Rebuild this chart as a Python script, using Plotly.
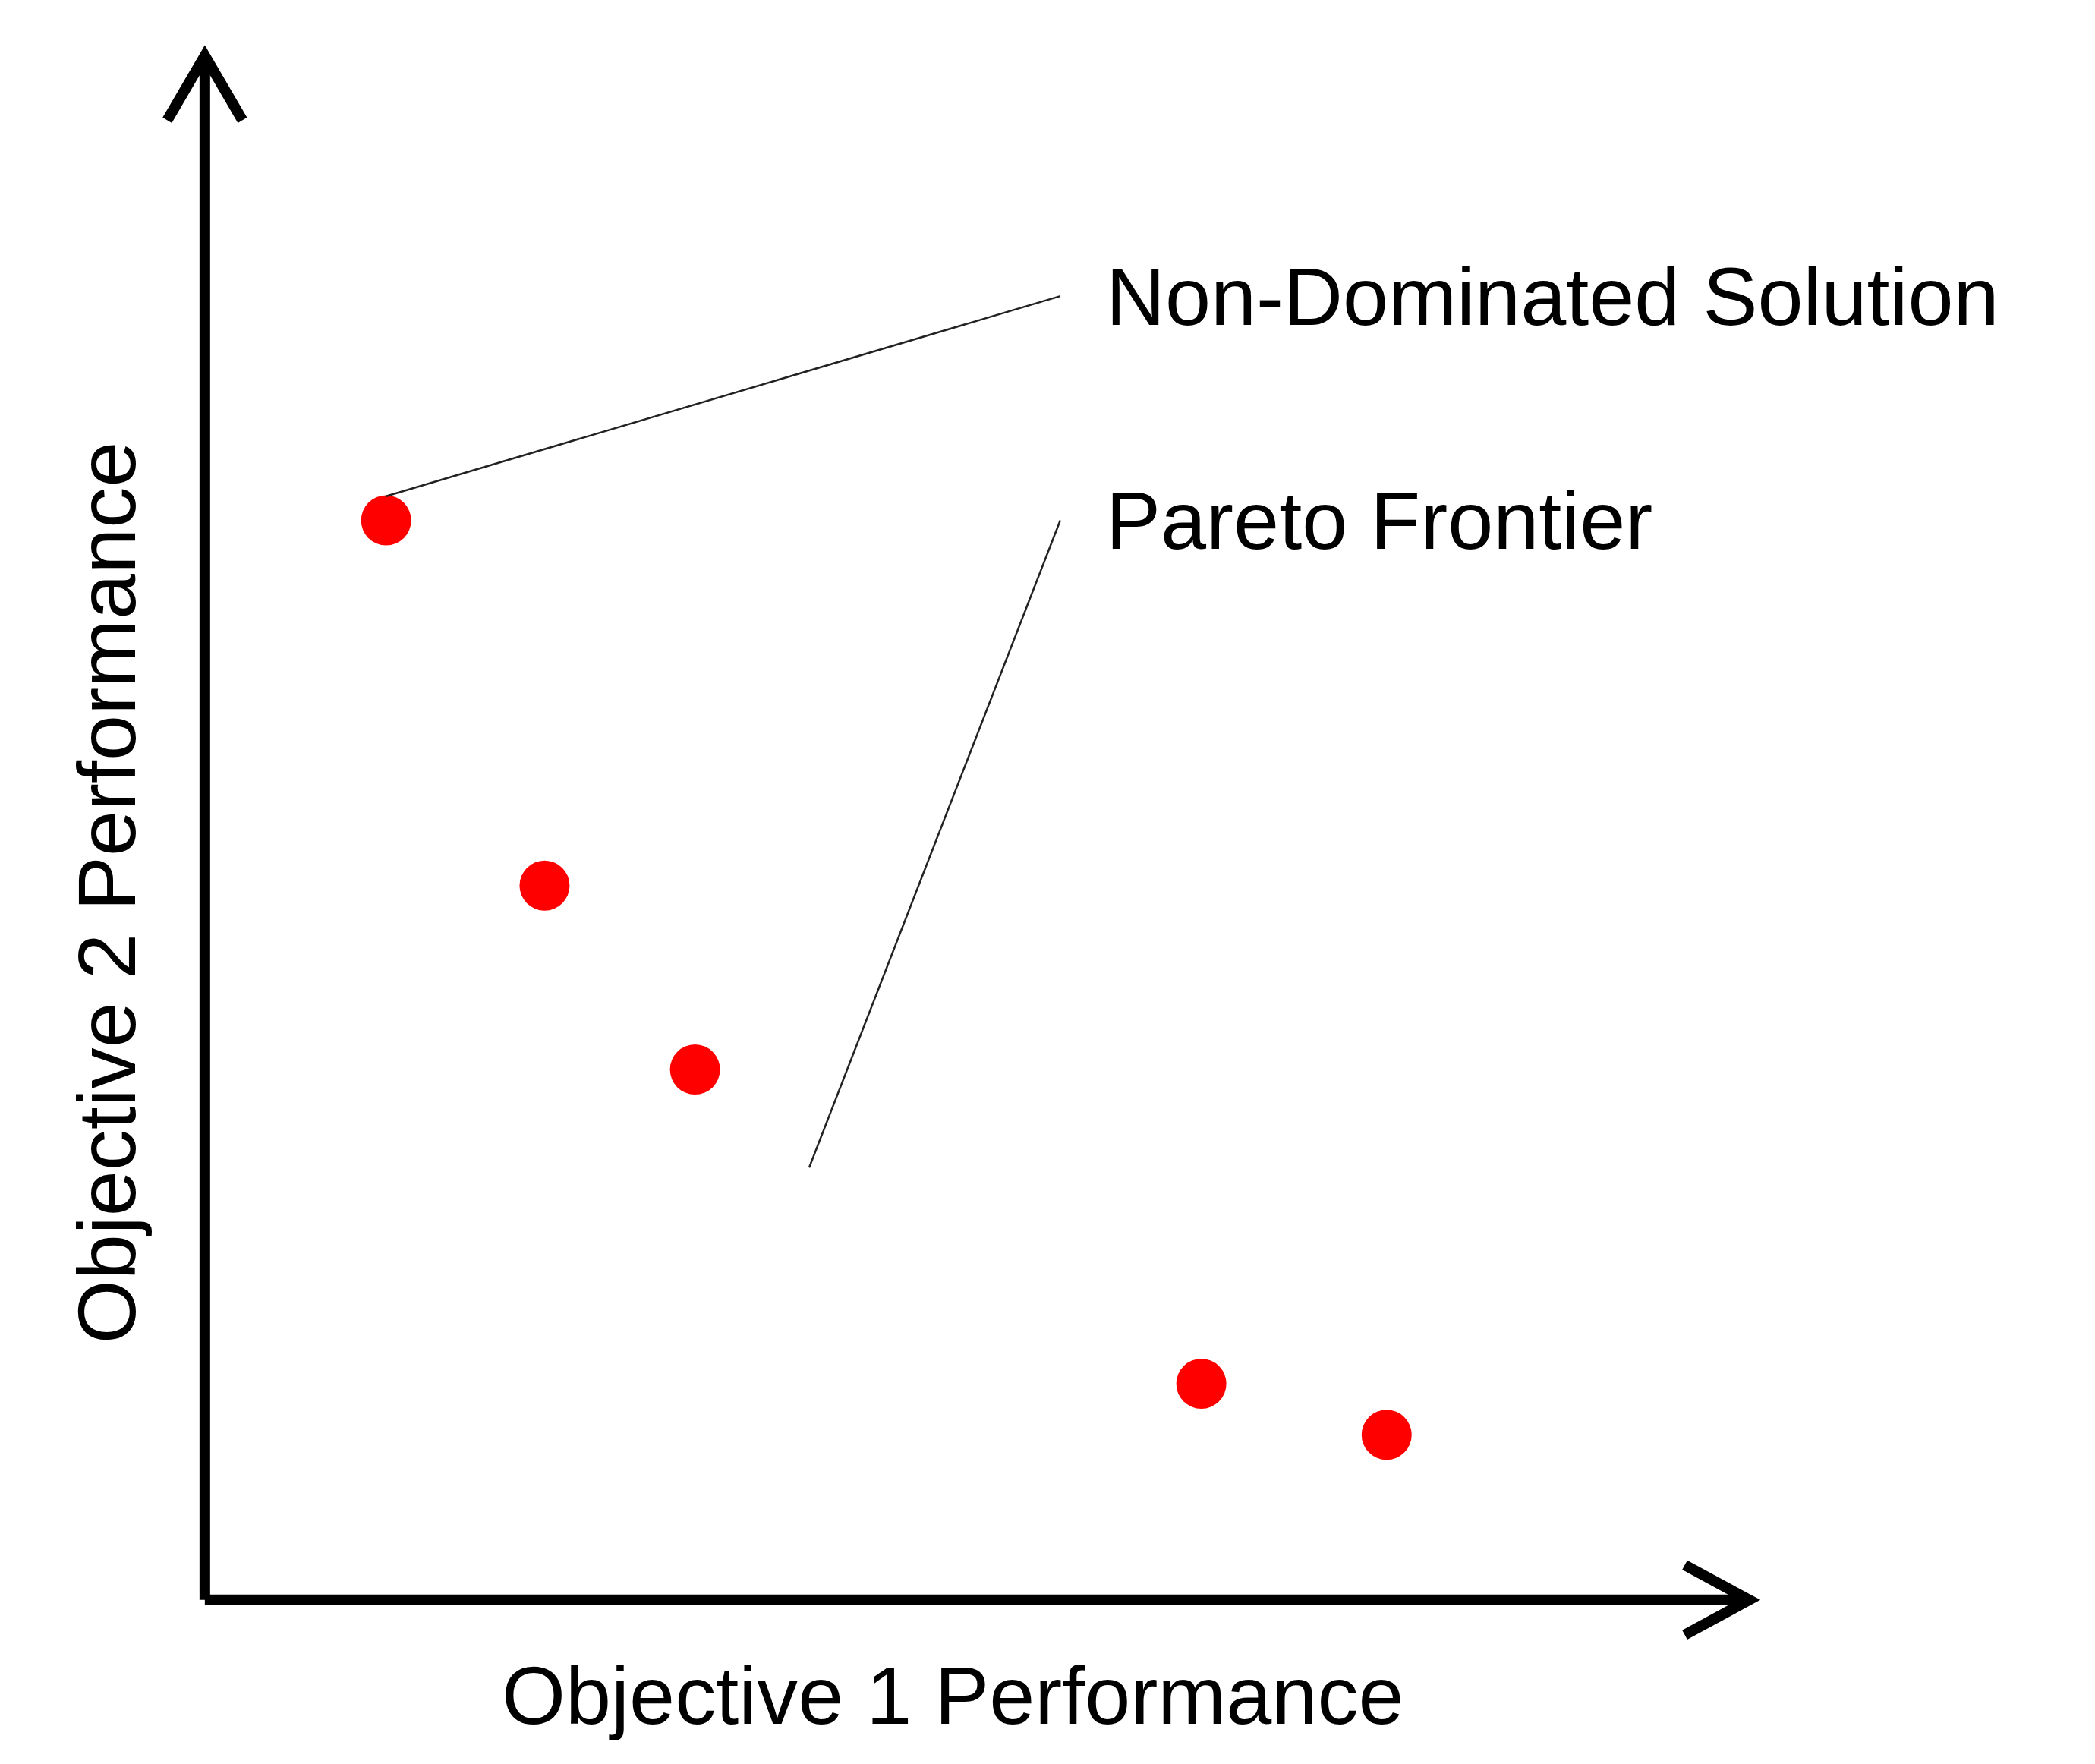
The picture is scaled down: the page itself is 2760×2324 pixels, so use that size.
import plotly.graph_objects as go

# Points (objective 1, objective 2), in chart units
obj1 = [1.35, 2.53, 3.65, 7.42, 8.80]
obj2 = [8.04, 5.32, 3.95, 1.61, 1.23]
label_nd = "Non-Dominated Solution"
label_pf = "Pareto Frontier"
xlabel = "Objective 1 Performance"
ylabel = "Objective 2 Performance"

FONT = "Liberation Sans, Arial, sans-serif"
fig = go.Figure()
fig.add_trace(go.Scatter(x=obj1, y=obj2, mode="markers",
                         marker=dict(color="#ff0000", size=66, line=dict(width=0)),
                         showlegend=False, hoverinfo="skip"))

lw = 14
shapes = [
    dict(type="line", x0=0, y0=0, x1=0, y1=11.50, line=dict(color="black", width=lw)),
    dict(type="line", x0=0, y0=0, x1=11.50, y1=0, line=dict(color="black", width=lw)),
    dict(type="path", path="M -0.28,11.02 L 0,11.50 L 0.28,11.02", line=dict(color="black", width=lw)),
    dict(type="path", path="M 11.02,0.26 L 11.50,0 L 11.02,-0.26", line=dict(color="black", width=lw)),
    dict(type="line", x0=obj1[0], y0=8.22, x1=6.37, y1=9.71, line=dict(color="#222", width=2.5)),
    dict(type="line", x0=6.37, y0=8.04, x1=4.50, y1=3.22, line=dict(color="#222", width=2.5)),
]
for s in shapes:
    s.update(xref="x", yref="y", layer="above")

anns = [
    dict(x=6.70, y=9.71, text=label_nd, xanchor="left", yanchor="middle"),
    dict(x=6.70, y=8.04, text=label_pf, xanchor="left", yanchor="middle"),
    dict(x=5.57, y=-0.71, text=xlabel, xanchor="center", yanchor="middle"),
    dict(x=-0.73, y=5.27, text=ylabel, xanchor="center", yanchor="middle", textangle=-90),
]
for a in anns:
    a.update(xref="x", yref="y", showarrow=False, font=dict(family=FONT, size=108, color="black"))

fig.update_layout(
    width=2760, height=2324, margin=dict(l=0, r=0, t=0, b=0),
    paper_bgcolor="white", plot_bgcolor="white",
    xaxis=dict(range=[-1.48, 14.12], visible=False, fixedrange=True),
    yaxis=dict(range=[-1.267, 11.87], visible=False, fixedrange=True),
    shapes=shapes, annotations=anns,
)
fig.write_html("out.html")
